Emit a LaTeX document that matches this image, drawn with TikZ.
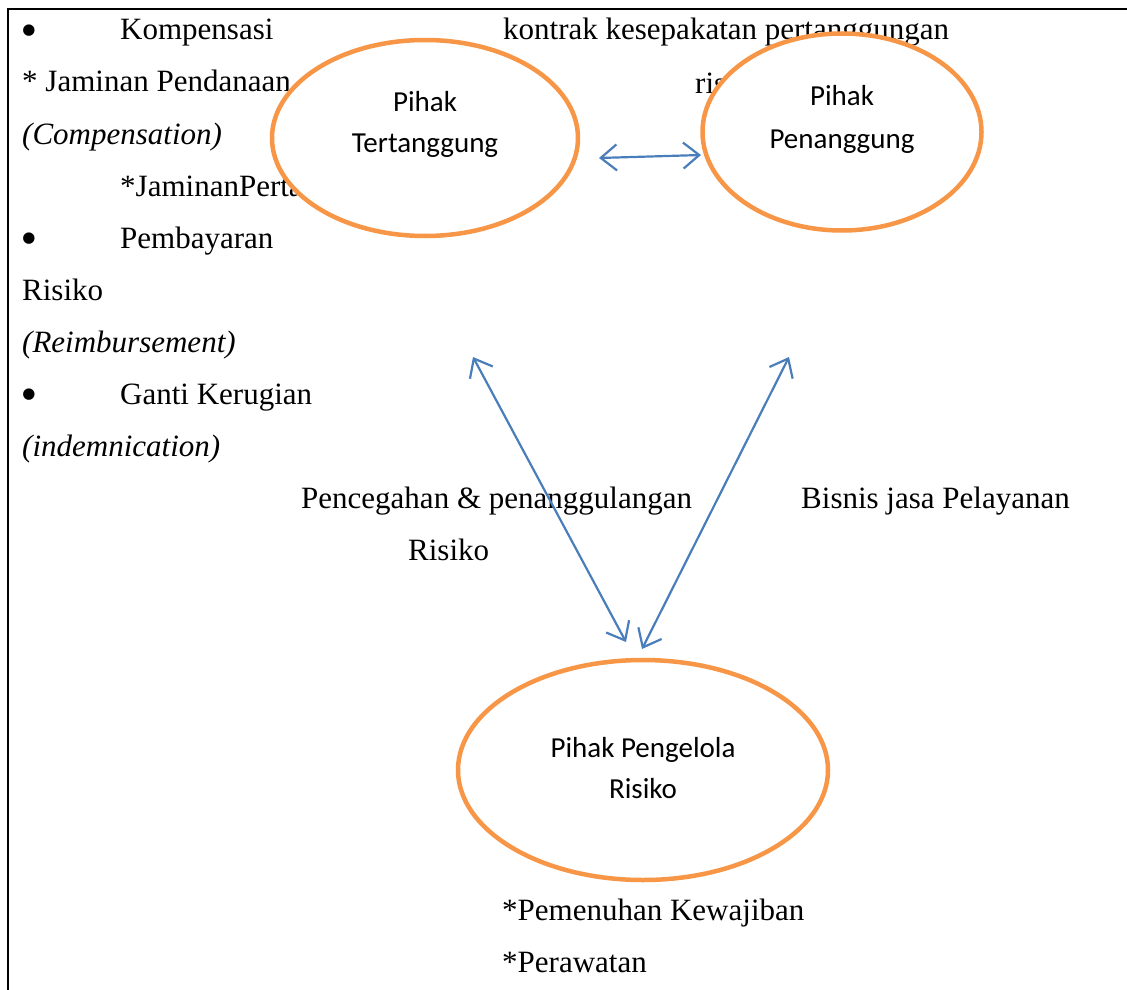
\documentclass[tikz,border=0pt]{standalone}
\usepackage{fontspec}
\setmainfont{Liberation Serif}
\newfontfamily\calfont{Carlito}
\newfontfamily\symfont{DejaVu Sans}
\usetikzlibrary{shapes.geometric,arrows.meta}
\definecolor{ellorange}{HTML}{F79646}
\definecolor{arrblue}{HTML}{4A7EBB}
\begin{document}
\begin{tikzpicture}[x=1pt,y=-1pt,
  txt/.style={anchor=base west,inner sep=0pt,font=\fontsize{31}{37}\selectfont},
  itxt/.style={anchor=base west,inner sep=0pt,font=\fontsize{31}{37}\selectfont\itshape},
  bul/.style={anchor=center,inner sep=0pt,font=\symfont\fontsize{15}{18}\selectfont},
  party/.style={ellipse,draw=ellorange,line width=4.5pt,fill=white,inner sep=0pt},
  lbl/.style={anchor=base,inner sep=0pt,font=\calfont\fontsize{29}{35}\selectfont},
  link/.style={draw=arrblue,line width=2.2pt,arrows={Straight Barb[length=16pt,width=26pt]-Straight Barb[length=16pt,width=26pt]}}]
\useasboundingbox (0,0) rectangle (1127,990);
% frame
\draw[line width=1.5pt] (8,990) -- (8,9) -- (1127,9);
% left column text
\node[bul] (b1) at (29,31) {●};
\node[txt] (t1) at (120,40) {Kompensasi};
\node[txt] (t2) at (22,92) {* Jaminan Pendanaan};
\node[itxt] (t3) at (22,144) {(Compensation)};
\node[txt] (t4) at (120,196) {*JaminanPertanggungan};
\node[bul] (b2) at (29,239) {●};
\node[txt] (t5) at (120,248) {Pembayaran};
\node[txt] (t6) at (22,300) {Risiko};
\node[itxt] (t7) at (22,352) {(Reimbursement)};
\node[bul] (b3) at (29,395) {●};
\node[txt] (t8) at (120,404) {Ganti Kerugian};
\node[itxt] (t9) at (22,456) {(indemnication)};
% top text
\node[txt] (k1) at (503,40) {kontrak kesepakatan pertanggungan};
\node[txt] (k2) at (695,93) {risiko};
% middle labels
\node[txt] (p1) at (301,508) {Pencegahan \& penanggulangan};
\node[txt] (p2) at (408,560) {Risiko};
\node[txt] (bj) at (801,508) {Bisnis jasa Pelayanan};
% bottom text
\node[txt] (w1) at (502,920) {*Pemenuhan Kewajiban};
\node[txt] (w2) at (502,972) {*Perawatan};
% parties
\node[party,minimum width=306pt,minimum height=196pt] (T) at (425,138) {};
\node[party,minimum width=279pt,minimum height=197pt] (P) at (842,132) {};
\node[party,minimum width=370pt,minimum height=220pt] (R) at (643,770) {};
\node[lbl] at (425,111) {Pihak};
\node[lbl] at (425,152) {Tertanggung};
\node[lbl] at (842,105) {Pihak};
\node[lbl] at (842,148) {Penanggung};
\node[lbl] at (643,757) {Pihak Pengelola};
\node[lbl] at (643,798) {Risiko};
% connectors
\coordinate (h1) at (599,158);
\coordinate (h2) at (701,155);
\coordinate (l1) at (473,357);
\coordinate (l2) at (626,642);
\coordinate (r1) at (789,357);
\coordinate (r2) at (642,649);
\draw[link] (h1) -- (h2);
\draw[link] (l1) -- (l2);
\draw[link] (r1) -- (r2);
\end{tikzpicture}
\end{document}
